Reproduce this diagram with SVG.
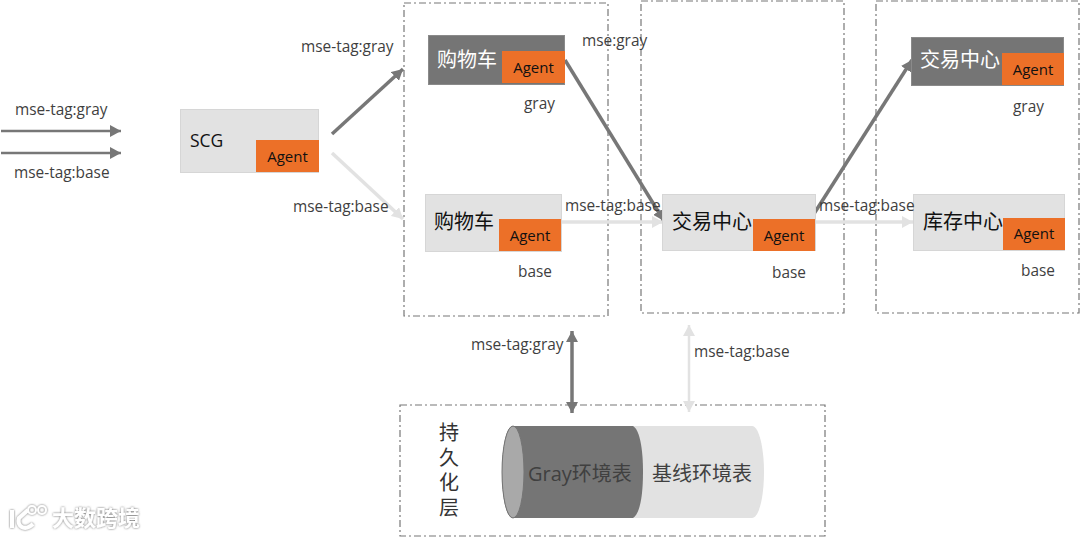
<svg xmlns="http://www.w3.org/2000/svg" width="1080" height="538" viewBox="0 0 1080 538">
<style>
text{font-family:"Open Sans","Noto Sans CJK SC",sans-serif;fill:#3f3f3f}
.lab{font-size:15.4px}
.cn{font-size:20px;fill:#111}
.ag{font-size:15px;fill:#111;text-anchor:middle}
.zone{fill:none;stroke:#777;stroke-width:1.2;stroke-dasharray:7 3 2 3}
.lt{fill:#e2e2e2;stroke:#d6d6d6}
.dk{fill:#757575;stroke:#8a8a8a}
.org{fill:#ec7028}
.g{stroke:#777;stroke-width:3.5;fill:none}
.b{stroke:#e2e2e2;stroke-width:3.5;fill:none}
</style>
<defs>
<marker id="ag" markerUnits="userSpaceOnUse" markerWidth="12" markerHeight="12" refX="11" refY="6" orient="auto"><path d="M0 0L11 6L0 12Z" fill="#777"/></marker>
<marker id="ab" markerUnits="userSpaceOnUse" markerWidth="12" markerHeight="12" refX="11" refY="6" orient="auto"><path d="M0 0L11 6L0 12Z" fill="#e2e2e2"/></marker>
<marker id="agr" markerUnits="userSpaceOnUse" markerWidth="12" markerHeight="12" refX="0" refY="6" orient="auto"><path d="M11 0L0 6L11 12Z" fill="#777"/></marker>
<marker id="abr" markerUnits="userSpaceOnUse" markerWidth="12" markerHeight="12" refX="0" refY="6" orient="auto"><path d="M11 0L0 6L11 12Z" fill="#e2e2e2"/></marker>
<filter id="wm" x="-10%" y="-20%" width="120%" height="140%"><feDropShadow dx="0" dy="0" stdDeviation="1.3" flood-color="#666" flood-opacity="1"/></filter>
</defs>

<g id="zones">
<rect class="zone" x="404" y="3" width="204" height="313"/>
<rect class="zone" x="641" y="1" width="203" height="312"/>
<rect class="zone" x="876" y="1" width="203" height="312"/>
<rect class="zone" x="400" y="405" width="425" height="131"/>
</g>

<g id="connectors">
<path class="g" d="M1 131H121" marker-end="url(#ag)" style="stroke-width:2.5"/>
<path class="g" d="M1 153H121" marker-end="url(#ag)" style="stroke-width:2.5"/>
<path class="g" d="M332 134L403 69" marker-end="url(#ag)"/>
<path class="b" d="M332 153L403 219" marker-end="url(#ab)"/>
<path class="b" d="M561 222H663" marker-end="url(#ab)"/>
<path class="b" d="M815 222H913" marker-end="url(#ab)"/>
<path class="g" d="M565 60L664 221" marker-end="url(#ag)"/>
<path class="g" d="M810 220L912 60" marker-end="url(#ag)"/>
<path class="g" d="M572 331V413" marker-start="url(#agr)" marker-end="url(#ag)"/>
<path class="b" d="M689 325V412" marker-start="url(#abr)" marker-end="url(#ab)" style="stroke-width:2.5"/>
</g>

<g id="scg"><rect class="lt" x="180.500" y="109.500" width="138" height="63"/><rect class="org" x="256" y="140" width="63" height="32"/><text class="cn" x="190" y="147" style="font-size:17.500px">SCG</text><text class="ag" x="287.500" y="162">Agent</text></g>
<g id="cart-gray"><rect class="dk" x="428.500" y="35.500" width="136" height="49"/><rect class="org" x="502" y="51" width="63" height="32"/><text class="cn" x="437" y="67" style="fill:#fff">购物车</text><text class="ag" x="533.500" y="73">Agent</text></g>
<g id="cart-base"><rect class="lt" x="425.500" y="194.500" width="136" height="57"/><rect class="org" x="499" y="219" width="62" height="32"/><text class="cn" x="434" y="229">购物车</text><text class="ag" x="530" y="241">Agent</text></g>
<g id="trade-base"><rect class="lt" x="662.500" y="194.500" width="153" height="56"/><rect class="org" x="753" y="219" width="62" height="32"/><text class="cn" x="672" y="229">交易中心</text><text class="ag" x="784" y="241">Agent</text></g>
<g id="trade-gray"><rect class="dk" x="911.500" y="37.500" width="152" height="48"/><rect class="org" x="1002" y="53" width="62" height="32"/><text class="cn" x="920" y="67" style="fill:#fff">交易中心</text><text class="ag" x="1033" y="75">Agent</text></g>
<g id="stock-base"><rect class="lt" x="913.500" y="194.500" width="151" height="56"/><rect class="org" x="1003" y="218" width="62" height="32"/><text class="cn" x="923" y="229">库存中心</text><text class="ag" x="1034" y="239">Agent</text></g>

<g id="labels">
<text class="lab" x="15" y="115">mse-tag:gray</text>
<text class="lab" x="14" y="178">mse-tag:base</text>
<text class="lab" x="301" y="52">mse-tag:gray</text>
<text class="lab" x="293" y="212">mse-tag:base</text>
<text class="lab" x="582" y="46">mse:gray</text>
<text class="lab" x="524" y="109">gray</text>
<text class="lab" x="518" y="277">base</text>
<text class="lab" x="565" y="211">mse-tag:base</text>
<text class="lab" x="819" y="211">mse-tag:base</text>
<text class="lab" x="772" y="278">base</text>
<text class="lab" x="1013" y="112">gray</text>
<text class="lab" x="1021" y="276">base</text>
<text class="lab" x="471" y="350">mse-tag:gray</text>
<text class="lab" x="694" y="357">mse-tag:base</text>
</g>

<g id="persistence">
<text class="cn" x="449" y="440" text-anchor="middle" style="fill:#333">持</text>
<text class="cn" x="449" y="465" text-anchor="middle" style="fill:#333">久</text>
<text class="cn" x="449" y="490" text-anchor="middle" style="fill:#333">化</text>
<text class="cn" x="449" y="515" text-anchor="middle" style="fill:#333">层</text>
</g>

<g id="cylinder">
<path d="M632 426H752C759 426 764 448 764 472C764 497 759 518 752 518H632Z" fill="#e2e2e2"/>
<path d="M513 426H633C640 430 643 450 643 472C643 495 640 514 633 518H513C506 518 502 497 502 472C502 448 506 426 513 426Z" fill="#757575"/>
<ellipse cx="513" cy="472" rx="11" ry="46" fill="#a9a9a9" stroke="#757575"/>
<text x="528" y="481" style="font-size:20px;fill:#404040">Gray环境表</text>
<text x="652" y="481" style="font-size:20px;fill:#404040">基线环境表</text>
</g>

<g id="watermark" filter="url(#wm)">
<path d="M12 510V528M28 510L19 518C17 526 24 532 33 524" fill="none" stroke="#fff" stroke-width="4"/>
<circle cx="32" cy="510" r="4" fill="none" stroke="#fff" stroke-width="2"/>
<circle cx="42" cy="510" r="4" fill="none" stroke="#fff" stroke-width="2"/>
<text x="52" y="526" style="font-size:22px;fill:#fff;font-weight:700">大数跨境</text>
</g>
</svg>
